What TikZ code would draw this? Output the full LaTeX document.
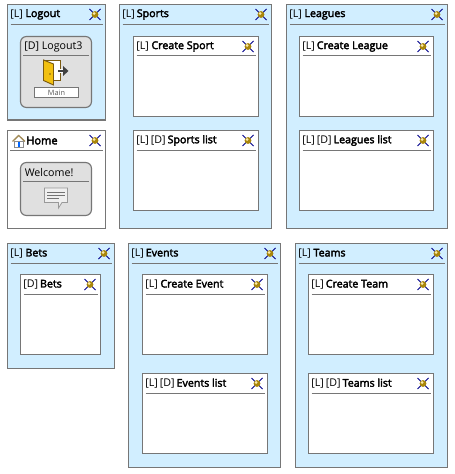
\documentclass[tikz,border=0pt]{standalone}
\usepackage{fontspec}
\setmainfont[BoldFont={Open Sans},BoldFeatures={FakeBold=3}]{Open Sans}
\usetikzlibrary{calc,fit}
\definecolor{framegray}{HTML}{767676}
\definecolor{areablue}{HTML}{D1EEFF}
\definecolor{viewgray}{HTML}{E0E0E0}
\definecolor{doorgold}{HTML}{F2C010}
\definecolor{doorbrown}{HTML}{7A5A10}
\tikzset{
    area/.style={draw=framegray,line width=.85pt,fill=areablue,inner sep=0pt,outer sep=0pt},
    page/.style={draw=framegray,line width=.85pt,fill=white,inner sep=0pt,outer sep=0pt},
    view/.style={draw=framegray,line width=.85pt,fill=viewgray,inner sep=0pt,outer sep=0pt,rounded corners=4.5pt},
    headtext/.style={anchor=west,inner sep=0pt,font=\fontsize{8pt}{9pt}\selectfont},
    headrule/.style={draw=framegray,line width=.85pt},
    pics/crossball/.style={code={
        \draw[blue!55!black,line width=.55pt] (-5.5,-5.5) -- (5.5,5.5) (-5.5,5.5) -- (5.5,-5.5);
        \fill[doorgold!70!black] (0,0) circle (3.4);
        \fill[doorgold!35!white] (-.8,-1) circle (1.5);
    }}
}
% title text, rule and icon of a box
\newcommand{\boxhead}[3][20]{
    \node[headtext] (#2-text) at ($(#2.north west)+(2.5,10)$) {#3};
    \draw[headrule] ($(#2.north west)+(3,#1)$) -- ($(#2.north east)+(-2.5,#1)$);
    \pic at ($(#2.north east)+(-10.5,10)$) {crossball};
}
\newcommand{\gap}{\hspace{1.5pt}}
\begin{document}
\begin{tikzpicture}[x=.75pt,y=-.75pt]
    \useasboundingbox (0,0) rectangle (454,474);
    \fill[white] (0,0) rectangle (454,474);

    % top row
    \node[area,fit={(7.5,4.5) (105.5,120)}] (logout) {};
    \boxhead{logout}{[L]\hspace{2pt}\textbf{Logout}}
    \node[view,fit={(20.5,36.5) (91.5,107.5)}] (logout3) {};
    \node[headtext] (logout3-text) at (24,46.5) {[D] Logout3};
    \draw[headrule] (23,55.5) -- (89,55.5);
    \draw[doorbrown,fill=white,line width=.7pt] (43.5,60) rectangle (60.5,80.5);
    \draw[doorbrown,fill=doorgold,line width=.7pt] (43.5,60) -- (53.5,64) -- (53.5,85) -- (43.5,80.5) -- cycle;
    \fill[doorbrown] (50,74) circle (.8);
    \draw[white,line width=3pt] (58,71) -- (66,71);
    \draw[black!75,line width=1.5pt] (58,71) -- (64,71);
    \fill[black!75] (63,66) -- (68.5,71) -- (63,76) -- cycle;
    \node[draw=framegray,fill=white,line width=.7pt,inner sep=0pt,fit={(34.5,87.5) (78.5,97.5)}] (logout3-main) {};
    \node[inner sep=0pt,text=black!65,font=\fontsize{5.5pt}{6pt}\selectfont] (main-text) at (logout3-main) {Main};

    \node[page,fit={(7.5,130.5) (105.5,228.5)}] (home) {};
    \node[headtext,font=\fontsize{8.3pt}{9pt}\selectfont\bfseries] (home-text) at (26,140.5) {Home};
    \draw[headrule] (10,150.5) -- (103,150.5);
    \pic at (95,140.5) {crossball};
    \fill[white,draw=black!45,line width=.4pt] (14.5,141) rectangle (23,147);
    \draw[doorbrown!70,line width=1pt] (12.5,141.5) -- (18.7,135.5) -- (25,141.5);
    \fill[blue!60!cyan] (17.5,142.5) rectangle (20,147);
    \node[view,fit={(20.5,162.5) (91.5,215.5)}] (welcome) {};
    \node[headtext] (welcome-text) at (24.5,172.5) {Welcome!};
    \draw[headrule] (23,181.5) -- (89,181.5);
    \draw[black!40,fill=viewgray!50!white,line width=.6pt] (44.5,188) -- (67.5,188) -- (67.5,202.5) -- (62,202.5) -- (58.5,208) -- (58.5,202.5) -- (44.5,202.5) -- cycle;
    \draw[black!55,line width=.6pt] (47,192) -- (65,192) (47,195.3) -- (65,195.3) (47,198.7) -- (59,198.7);

    \node[area,fit={(119.5,4.5) (271.5,228.5)}] (sports) {};
    \boxhead{sports}{[L]\hspace{1.5pt}\textbf{Sports}}
    \node[page,fit={(133.5,36.5) (258.5,116.5)}] (createsport) {};
    \boxhead[19]{createsport}{[L]\hspace{2pt}\textbf{Create Sport}}
    \node[page,fit={(133.5,130.5) (258.5,210.5)}] (sportslist) {};
    \boxhead{sportslist}{[L]\gap[D]\gap\textbf{Sports list}}

    \node[area,fit={(286.5,4.5) (447.5,228.5)}] (leagues) {};
    \boxhead{leagues}{[L]\hspace{2pt}\textbf{Leagues}}
    \node[page,fit={(299.5,36.5) (433.5,116.5)}] (createleague) {};
    \boxhead[19]{createleague}{[L]\hspace{1.5pt}\textbf{Create League}}
    \node[page,fit={(299.5,130.5) (433.5,210.5)}] (leagueslist) {};
    \boxhead{leagueslist}{[L]\gap[D]\gap\textbf{Leagues list}}

    % bottom row
    \node[area,fit={(7.5,243.5) (114.5,368.5)}] (bets) {};
    \boxhead{bets}{[L]\hspace{2pt}\textbf{Bets}}
    \node[page,fit={(20.5,274.5) (100.5,354.5)}] (betsview) {};
    \boxhead{betsview}{[D]\gap\textbf{Bets}}

    \node[area,fit={(128.5,243.5) (280.5,467.5)}] (events) {};
    \boxhead{events}{[L]\hspace{1.5pt}\textbf{Events}}
    \node[page,fit={(142.5,274.5) (267.5,354.5)}] (createevent) {};
    \boxhead{createevent}{[L]\hspace{2pt}\textbf{Create Event}}
    \node[page,fit={(142.5,373.5) (267.5,453.5)}] (eventslist) {};
    \boxhead{eventslist}{[L]\gap[D]\gap\textbf{Events list}}

    \node[area,fit={(295.5,243.5) (447.5,467.5)}] (teams) {};
    \boxhead{teams}{[L]\hspace{2pt}\textbf{Teams}}
    \node[page,fit={(308.5,274.5) (433.5,354.5)}] (createteam) {};
    \boxhead{createteam}{[L]\hspace{1.5pt}\textbf{Create Team}}
    \node[page,fit={(308.5,373.5) (433.5,453.5)}] (teamslist) {};
    \boxhead{teamslist}{[L]\gap[D]\gap\textbf{Teams list}}
\end{tikzpicture}
\end{document}
